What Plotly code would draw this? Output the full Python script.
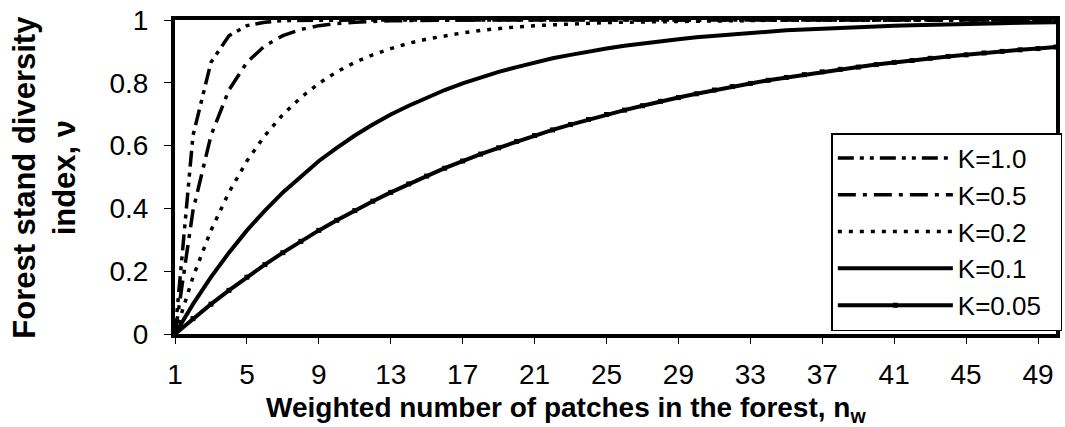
import plotly.graph_objects as go

n_w = list(range(1, 51))

k_labels = ["K=1.0", "K=0.5", "K=0.2", "K=0.1", "K=0.05"]

v_k100 = [0.000, 0.632, 0.865, 0.950, 0.982, 0.993, 0.998, 0.999, 1.000, 1.000,
          1.000, 1.000, 1.000, 1.000, 1.000, 1.000, 1.000, 1.000, 1.000, 1.000,
          1.000, 1.000, 1.000, 1.000, 1.000, 1.000, 1.000, 1.000, 1.000, 1.000,
          1.000, 1.000, 1.000, 1.000, 1.000, 1.000, 1.000, 1.000, 1.000, 1.000,
          1.000, 1.000, 1.000, 1.000, 1.000, 1.000, 1.000, 1.000, 1.000, 1.000]

v_k050 = [0.000, 0.393, 0.632, 0.777, 0.865, 0.918, 0.950, 0.970, 0.982, 0.989,
          0.993, 0.996, 0.998, 0.998, 0.999, 0.999, 1.000, 1.000, 1.000, 1.000,
          1.000, 1.000, 1.000, 1.000, 1.000, 1.000, 1.000, 1.000, 1.000, 1.000,
          1.000, 1.000, 1.000, 1.000, 1.000, 1.000, 1.000, 1.000, 1.000, 1.000,
          1.000, 1.000, 1.000, 1.000, 1.000, 1.000, 1.000, 1.000, 1.000, 1.000]

v_k020 = [0.000, 0.181, 0.330, 0.451, 0.551, 0.632, 0.699, 0.753, 0.798, 0.835,
          0.865, 0.889, 0.909, 0.926, 0.939, 0.950, 0.959, 0.967, 0.973, 0.978,
          0.982, 0.985, 0.988, 0.990, 0.992, 0.993, 0.994, 0.995, 0.996, 0.997,
          0.998, 0.998, 0.998, 0.999, 0.999, 0.999, 0.999, 0.999, 0.999, 1.000,
          1.000, 1.000, 1.000, 1.000, 1.000, 1.000, 1.000, 1.000, 1.000, 1.000]

v_k010 = [0.000, 0.095, 0.181, 0.259, 0.330, 0.393, 0.451, 0.503, 0.551, 0.593,
          0.632, 0.667, 0.699, 0.727, 0.753, 0.777, 0.798, 0.817, 0.835, 0.850,
          0.865, 0.878, 0.889, 0.900, 0.909, 0.918, 0.926, 0.933, 0.939, 0.945,
          0.950, 0.955, 0.959, 0.963, 0.967, 0.970, 0.973, 0.975, 0.978, 0.980,
          0.982, 0.983, 0.985, 0.986, 0.988, 0.989, 0.990, 0.991, 0.992, 0.993]

v_k005 = [0.000, 0.049, 0.095, 0.139, 0.181, 0.221, 0.259, 0.295, 0.330, 0.362,
          0.393, 0.423, 0.451, 0.478, 0.503, 0.528, 0.551, 0.573, 0.593, 0.613,
          0.632, 0.650, 0.667, 0.683, 0.699, 0.713, 0.727, 0.741, 0.753, 0.765,
          0.777, 0.788, 0.798, 0.808, 0.817, 0.826, 0.835, 0.843, 0.850, 0.858,
          0.865, 0.871, 0.878, 0.884, 0.889, 0.895, 0.900, 0.905, 0.909, 0.914]

x_ticks = [1, 5, 9, 13, 17, 21, 25, 29, 33, 37, 41, 45, 49]
y_ticks = [0, 0.2, 0.4, 0.6, 0.8, 1]
y_tick_text = ["0", "0.2", "0.4", "0.6", "0.8", "1"]

FONT = "Liberation Sans, Arial, sans-serif"

fig = go.Figure()
styles = [
    dict(dash="16px,6px,4px,6px,4px,6px", width=3.5),
    dict(dash="18px,7px,4px,7px", width=3.5),
    dict(dash="4px,7px", width=3.5),
    dict(dash="solid", width=4),
    dict(dash="solid", width=4),
]
series = [v_k100, v_k050, v_k020, v_k010, v_k005]
for name, ys, st in zip(k_labels, series, styles):
    mode = "lines+markers" if name == "K=0.05" else "lines"
    fig.add_trace(go.Scatter(
        x=n_w, y=ys, name=name + "\u00a0\u00a0", mode=mode,
        line=dict(color="black", width=st["width"], dash=st["dash"]),
        marker=dict(symbol="square", size=5, color="black"),
    ))

fig.update_layout(
    width=1065, height=427,
    margin=dict(l=175, r=3, t=20, b=93),
    paper_bgcolor="white", plot_bgcolor="white",
    font=dict(family=FONT, color="black", size=28),
    showlegend=True,
    legend=dict(
        x=0.745, y=0.64, xanchor="left", yanchor="top",
        bgcolor="white", bordercolor="black", borderwidth=1.5,
        font=dict(size=26, family=FONT),
        itemwidth=115,
        tracegroupgap=0,
    ),
    xaxis=dict(
        range=[1, 50], tickvals=x_ticks, ticks="outside", ticklen=6,
        tickwidth=1, tickcolor="black", showline=True, linecolor="black",
        linewidth=4, mirror=True, showgrid=False, zeroline=False,
        tickfont=dict(size=28), ticklabelstandoff=6,
    ),
    yaxis=dict(
        range=[0, 1], tickvals=y_ticks, ticktext=y_tick_text, ticks="outside",
        ticklen=7, tickwidth=1, tickcolor="black", showline=True,
        linecolor="black", linewidth=4, mirror=True, showgrid=False,
        zeroline=False, tickfont=dict(size=28), ticklabelstandoff=10,
    ),
    annotations=[
        dict(text="<b>Forest stand diversity<br>index, ν</b>", xref="paper",
             yref="paper", x=-0.149, y=0.5, xanchor="center", yanchor="middle",
             textangle=-90, showarrow=False, font=dict(size=31, family=FONT)),
        dict(text="<b>Weighted number of patches in the forest, n<sub>w</sub></b>",
             xref="paper", yref="paper", x=0.444, y=-0.178, xanchor="center",
             yanchor="top", showarrow=False, font=dict(size=28, family=FONT)),
    ],
)

fig.write_html("out.html")
